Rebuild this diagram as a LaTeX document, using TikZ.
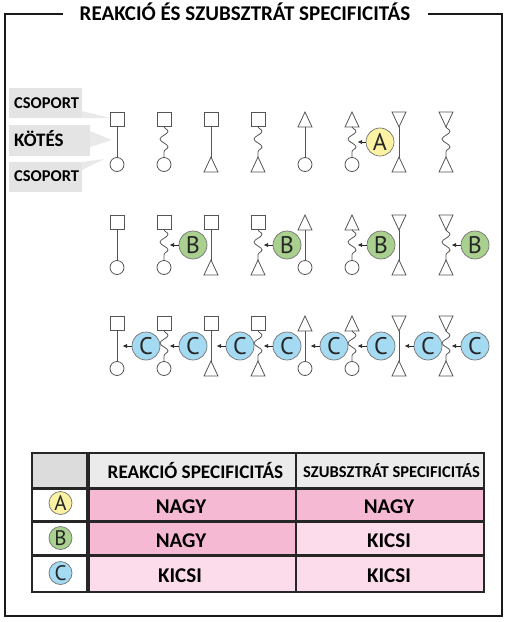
\documentclass[tikz,border=0pt]{standalone}
\usepackage{fontspec}
\setmainfont{Carlito}
\newfontfamily\circfont{PT Sans}
\usetikzlibrary{arrows.meta,decorations.pathmorphing}

\definecolor{frm}{HTML}{1A1A1A}
\definecolor{ln}{HTML}{555555}
\definecolor{lblgray}{HTML}{E4E4E4}
\definecolor{wedgegray}{HTML}{E9E9E9}
\definecolor{cya}{HTML}{FBF2A4}
\definecolor{cgr}{HTML}{A9D08E}
\definecolor{cbl}{HTML}{A5DAF3}
\definecolor{hdrA}{HTML}{DCDCDC}
\definecolor{hdrB}{HTML}{EBEBEB}
\definecolor{pinkS}{HTML}{F6B9D3}
\definecolor{pinkL}{HTML}{FCDCEA}
\definecolor{tbl}{HTML}{262626}

\newcommand\mtopsq[3]{\node[sqbox] (#1-t) at (#2,#3-22.5) {};}
\newcommand\mtoptu[3]{\draw[shp] (#2,#3-30) -- (#2+7,#3-15) -- (#2-7,#3-15) -- cycle;}
\newcommand\mtoptd[3]{\draw[shp] (#2-7,#3-30) -- (#2+7,#3-30) -- (#2,#3-15) -- cycle;}
\newcommand\mbotci[3]{\node[cibox] (#1-b) at (#2,#3+22.5) {};}
\newcommand\mbottu[3]{\draw[shp] (#2,#3+15) -- (#2+7,#3+30) -- (#2-7,#3+30) -- cycle;}
\newcommand\mlinkst[1]{\draw[lnk] (#1-ta) -- (#1-ba);}
\newcommand\mlinkwv[1]{\draw[lnk,decorate,decoration={snake,amplitude=4pt,segment length=15.5pt}] (#1-ta) -- (#1-ba);}
\newcommand\molec[6]{%
  \csname mtop#4\endcsname{#1}{#2}{#3}%
  \csname mbot#6\endcsname{#1}{#2}{#3}%
  \coordinate (#1-ta) at (#2,#3-15.5);%
  \coordinate (#1-ba) at (#2,#3+15.5);%
  \coordinate (#1-hit) at (#2+5.5,#3);%
  \csname mlink#5\endcsname{#1}%
}
\newcommand\molrow[2]{% prefix, ym
  \molec{#1a}{117}{#2}{sq}{st}{ci}
  \molec{#1b}{164}{#2}{sq}{wv}{ci}
  \molec{#1c}{211}{#2}{sq}{st}{tu}
  \molec{#1d}{258}{#2}{sq}{wv}{tu}
  \molec{#1e}{305}{#2}{tu}{st}{ci}
  \molec{#1f}{352}{#2}{tu}{wv}{ci}
  \molec{#1g}{399}{#2}{td}{st}{tu}
  \molec{#1h}{446}{#2}{td}{wv}{tu}
}

\begin{document}
\begin{tikzpicture}[x=1pt,y=-1pt,
  shp/.style={draw=ln,fill=white,line width=0.8pt,line join=miter},
  sqbox/.style={shp,rectangle,minimum size=14pt,inner sep=0pt},
  cibox/.style={shp,circle,minimum size=14pt,inner sep=0pt},
  lnk/.style={draw=ln,line width=0.8pt},
  arr/.style={draw=black!85,line width=0.7pt,-{Latex[length=4.5pt,width=4pt]}},
  enz/.style={circle,draw=black!55,line width=0.7pt,minimum size=28pt,inner sep=0pt,font=\circfont\fontsize{24}{26}\selectfont,text=black!85},
  tenz/.style={circle,draw=black!55,line width=0.7pt,minimum size=23pt,inner sep=0pt,font=\circfont\fontsize{21}{22}\selectfont,text=black!85},
  lbl/.style={anchor=base west,inner sep=0pt,font=\bfseries\fontsize{16.5}{18}\selectfont},
  cell/.style={anchor=base,inner sep=0pt,font=\bfseries\fontsize{21}{23}\selectfont},
]
\useasboundingbox (0,0) rectangle (508,622);

% frame and title
\draw[frm,line width=2pt] (63,14) -- (5,14) -- (5,615.5) -- (502,615.5) -- (502,14) -- (428,14);
\node[anchor=base,inner sep=0pt,font=\bfseries\fontsize{21}{24}\selectfont] (title) at (245,20) {REAKCIÓ ÉS SZUBSZTRÁT SPECIFICITÁS};

% labels
\fill[wedgegray] (82,111) -- (110,118) -- (82,118) -- cycle;
\fill[wedgegray] (90,131) -- (112,140) -- (90,147) -- cycle;
\fill[wedgegray] (82,162) -- (104,159) -- (82,170) -- cycle;
\fill[lblgray] (9,88) rectangle (82,118);
\fill[lblgray] (9,125) rectangle (90,156);
\fill[lblgray] (9,162) rectangle (82,192);
\node[lbl] (lcs1) at (14,108) {CSOPORT};
\node[lbl,font=\bfseries\fontsize{19}{21}\selectfont] (lkot) at (14,146) {KÖTÉS};
\node[lbl] (lcs2) at (14,181) {CSOPORT};

% row 1
\molrow{r1}{142}
\node[enz,fill=cya] (A1) at (380,142) {A};
\draw[arr] (A1.west) -- (r1f-hit);

% row 2
\molrow{r2}{245}
\node[enz,fill=cgr] (B1) at (193,245) {B};
\node[enz,fill=cgr] (B2) at (287,245) {B};
\node[enz,fill=cgr] (B3) at (381,245) {B};
\node[enz,fill=cgr] (B4) at (475,245) {B};
\draw[arr] (B1.west) -- (r2b-hit);
\draw[arr] (B2.west) -- (r2d-hit);
\draw[arr] (B3.west) -- (r2f-hit);
\draw[arr] (B4.west) -- (r2h-hit);

% row 3
\molrow{r3}{346}
\foreach \i/\m in {1/a,2/b,3/c,4/d,5/e,6/f,7/g,8/h}{
  \node[enz,fill=cbl] (C\i) at ({117+47*(\i-1)+29},346) {C};
  \draw[arr] (C\i.west) -- (r3\m-hit);
}

% table
\fill[hdrA] (32,453) rectangle (88,488);
\fill[hdrB] (88,453) rectangle (484,488);
\fill[white] (32,488) rectangle (88,592);
\fill[pinkS] (88,488) rectangle (484,521);
\fill[pinkS] (88,521) rectangle (296,555);
\fill[pinkL] (296,521) rectangle (484,555);
\fill[pinkL] (88,555) rectangle (484,592);
\draw[tbl,line width=3pt] (32,488) -- (484,488);
\draw[tbl,line width=3pt] (32,521) -- (484,521);
\draw[tbl,line width=3pt] (32,555) -- (484,555);
\draw[tbl,line width=3.5pt] (88,453) -- (88,592);
\draw[tbl,line width=2pt] (296,453) -- (296,592);
\draw[tbl,line width=2pt] (32,453) rectangle (484,592);

\node[anchor=base,inner sep=0pt,font=\bfseries\fontsize{19.2}{21}\selectfont] (h1) at (195.5,478) {REAKCIÓ SPECIFICITÁS};
\node[anchor=base,inner sep=0pt,font=\bfseries\fontsize{16.5}{18}\selectfont] (h2) at (391.5,477) {SZUBSZTRÁT SPECIFICITÁS};

\node[tenz,fill=cya] (tA) at (60.5,503) {A};
\node[tenz,fill=cgr] (tB) at (60.5,538) {B};
\node[tenz,fill=cbl] (tC) at (60.5,573) {C};

\node[cell] (aR) at (181,513) {NAGY};
\node[cell] (aS) at (389,513) {NAGY};
\node[cell] (bR) at (181,547) {NAGY};
\node[cell] (bS) at (389,547) {KICSI};
\node[cell] (cR) at (180,582) {KICSI};
\node[cell] (cS) at (389,582) {KICSI};
\end{tikzpicture}
\end{document}
